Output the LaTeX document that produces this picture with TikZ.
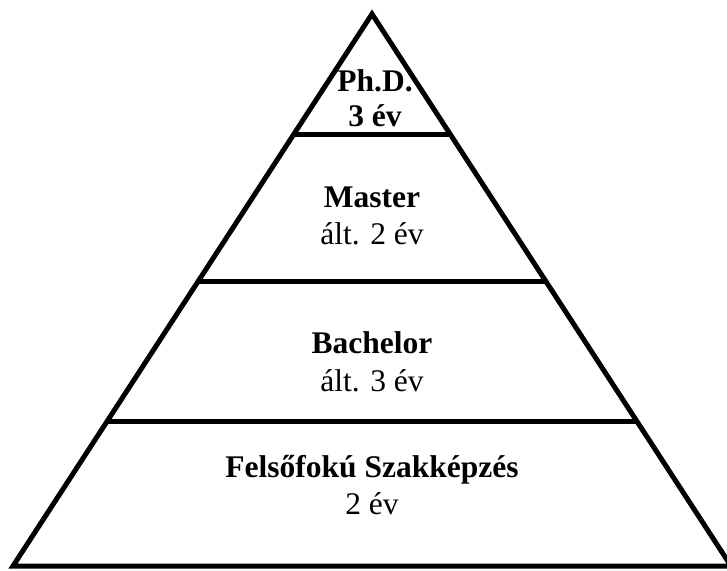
\documentclass[tikz,border=0pt]{standalone}
\usepackage{fontspec}
\setmainfont{Liberation Serif}[BoldFont={Liberation Serif Bold}]
\usetikzlibrary{calc}

\tikzset{
  levelname/.style={font=\rmfamily\fontsize{31.5}{37}\selectfont\bfseries, anchor=base, inner sep=0pt},
  levelyears/.style={font=\rmfamily\fontsize{31.5}{37}\selectfont, anchor=base, inner sep=0pt},
}

\begin{document}
\begin{tikzpicture}[x=1pt,y=1pt]
\useasboundingbox (0,0) rectangle (727,570);
\clip (0,0) rectangle (727,570);

% the pyramid and its layers
\coordinate (apex) at (372,556);
\coordinate (baseleft) at (13,4);
\coordinate (baseright) at (731,4);

\begin{scope}[line width=5pt]
\draw (apex) -- (baseright) -- (baseleft) -- cycle;
\foreach \t in {0.219,0.484,0.739}
  \draw ($(apex)!\t!(baseleft)$) -- ($(apex)!\t!(baseright)$);
\end{scope}

\node[levelname] (phd) at (375,478) {Ph.D.};
\node[levelname] (phdyears) at (375,443) {3 év};

\node[levelname] (master) at (372,362) {Master};
\node[levelyears] (masteryears) at (372,325) {ált. 2 év};

\node[levelname] (bachelor) at (372,216) {Bachelor};
\node[levelyears] (bacheloryears) at (372,178) {ált. 3 év};

\node[levelname] (oklevel) at (372,93) {Felsőfokú Szakképzés};
\node[levelyears] (oklevelyears) at (372,56) {2 év};
\end{tikzpicture}
\end{document}
